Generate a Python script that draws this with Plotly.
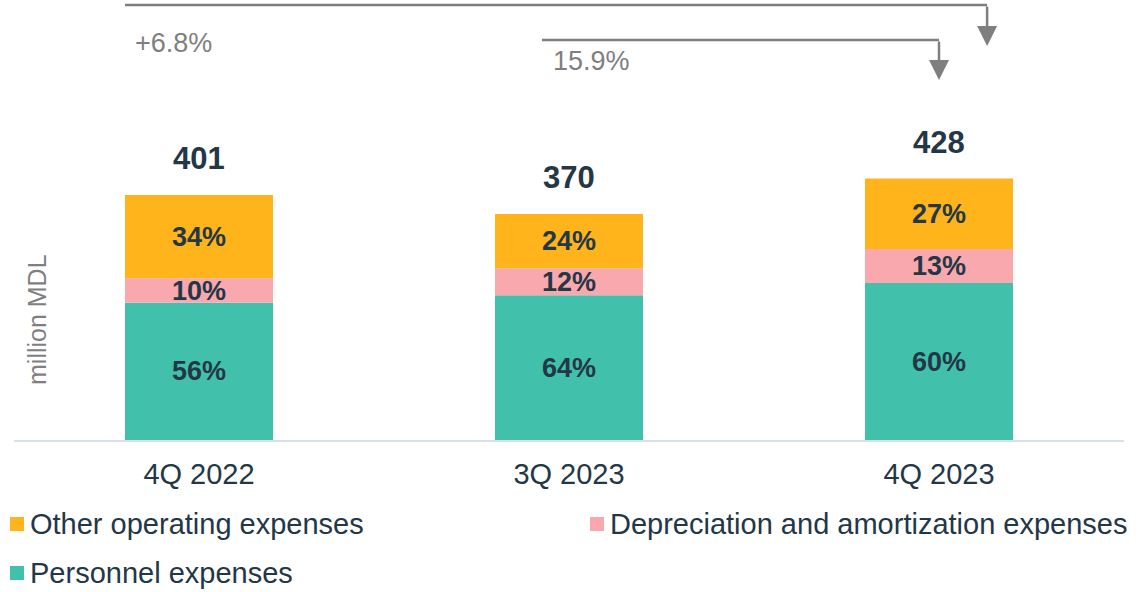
import plotly.graph_objects as go

# Quarterly operating expenses, million MDL
quarters = ["4Q 2022", "3Q 2023", "4Q 2023"]
totals = [401, 370, 428]
personnel_pct = [56, 64, 60]
depreciation_pct = [10, 12, 13]
other_pct = [34, 24, 27]
growth_labels = ["+6.8%", "15.9%"]

series = [
    ("Personnel expenses", personnel_pct, "#41C1AC"),
    ("Depreciation and amortization expenses", depreciation_pct, "#F9A8AE"),
    ("Other operating expenses", other_pct, "#FFB41B"),
]

TEXT = "#243746"
GRAY = "#7F7F7F"
FONT = "Liberation Sans, Arial, sans-serif"
x = list(range(len(quarters)))

fig = go.Figure()
annotations = []
base = [0.0] * len(quarters)
for name, pct, color in series:
    vals = [t * p / 100 for t, p in zip(totals, pct)]
    fig.add_trace(go.Bar(
        x=x, y=vals, base=base, name=name, marker=dict(color=color, line=dict(width=0)),
        width=0.4, showlegend=False, hoverinfo="skip",
    ))
    for i, (b, v, p) in enumerate(zip(base, vals, pct)):
        annotations.append(dict(
            x=i, y=b + v / 2, xref="x", yref="y", text=f"<b>{p}%</b>", showarrow=False,
            font=dict(size=27, color=TEXT, family=FONT), yanchor="middle",
        ))
    base = [b + v for b, v in zip(base, vals)]

# totals above each bar
for i, t in enumerate(totals):
    annotations.append(dict(
        x=i, y=t, xref="x", yref="y", text=f"<b>{t}</b>", showarrow=False,
        font=dict(size=31, color=TEXT, family=FONT), yanchor="middle", yshift=36,
    ))

# growth connectors: horizontal line + down arrow
connectors = [
    # (x start, x end, line y px, tip y px, label, label x px, label y px)
    (-0.2, 2.13, 5, 46, growth_labels[0], 133, 43),
    (0.927, 2.0, 40, 80, growth_labels[1], 551, 61),
]
shapes = []
PLOT_TOP = 0
PLOT_H = 440


def py(px):
    return 1 - (px - PLOT_TOP) / PLOT_H


for x0, x1, yl, yt, lab, lx, ly in connectors:
    shapes.append(dict(type="line", xref="x", yref="paper", x0=x0, x1=x1, y0=py(yl), y1=py(yl),
                       line=dict(color=GRAY, width=2.5)))
    annotations.append(dict(
        x=x1, y=py(yt), xref="x", yref="paper", ax=0, ay=-(yt - yl),
        showarrow=True, arrowhead=2, arrowsize=1.6, arrowwidth=2.5, arrowcolor=GRAY, text="",
    ))
    annotations.append(dict(
        x=(lx - 14) / 1110, y=py(ly), xref="paper", yref="paper", text=lab, showarrow=False,
        xanchor="left", yanchor="middle", font=dict(size=27, color=GRAY, family=FONT),
    ))

# legend drawn as squares + labels
legend_items = [
    ("Other operating expenses", "#FFB41B", 10, 524),
    ("Depreciation and amortization expenses", "#F9A8AE", 590, 524),
    ("Personnel expenses", "#41C1AC", 10, 573),
]
for name, color, lx, ly in legend_items:
    shapes.append(dict(type="rect", xref="paper", yref="paper",
                       x0=(lx - 14) / 1110, x1=(lx - 14 + 14) / 1110,
                       y0=py(ly + 7), y1=py(ly - 7), fillcolor=color, line=dict(width=0)))
    annotations.append(dict(
        x=(lx + 18 - 14) / 1110, y=py(ly), xref="paper", yref="paper", text=name, showarrow=False,
        xanchor="left", yanchor="middle", font=dict(size=29, color=TEXT, family=FONT),
    ))

# y-axis title
annotations.append(dict(
    x=(37 - 14) / 1110, y=py(320), xref="paper", yref="paper", text="million MDL", showarrow=False,
    textangle=-90, xanchor="center", yanchor="middle", font=dict(size=25, color=GRAY, family=FONT),
))

fig.update_layout(
    width=1140, height=592,
    margin=dict(l=14, r=16, t=0, b=152),
    plot_bgcolor="white", paper_bgcolor="white",
    barmode="overlay",
    font=dict(family=FONT, color=TEXT),
    xaxis=dict(
        tickmode="array", tickvals=x, ticktext=quarters, range=[-0.5, 2.5],
        showgrid=False, zeroline=False, showline=True, linecolor="#D9E1EA", linewidth=2,
        tickfont=dict(size=29, color=TEXT, family=FONT), ticks="", ticklabelstandoff=7,
        fixedrange=True,
    ),
    yaxis=dict(range=[0, 720], visible=False, fixedrange=True),
    shapes=shapes,
    annotations=annotations,
)

fig.write_html("out.html")
